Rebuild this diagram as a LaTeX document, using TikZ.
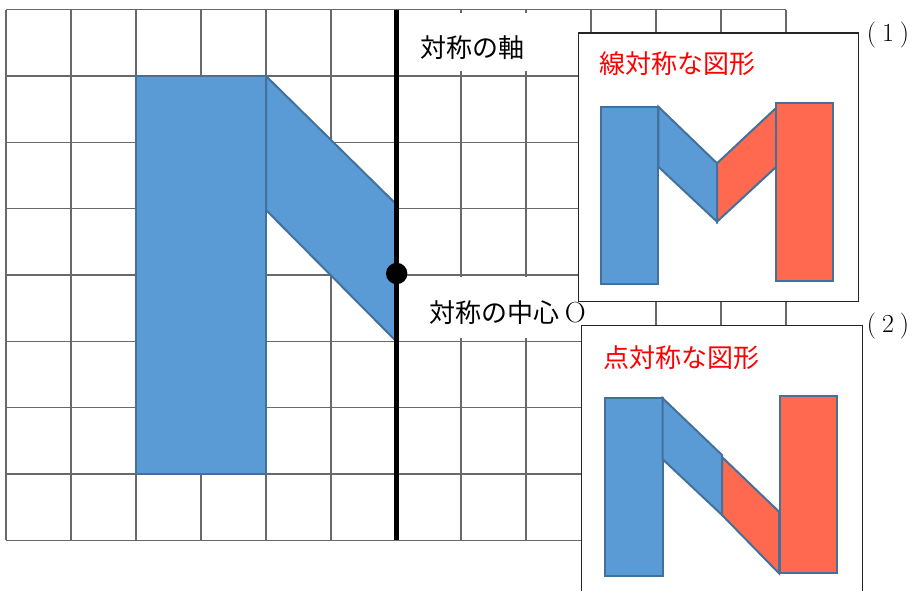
\documentclass[tikz,border=0pt]{standalone}
\usepackage{fontspec}
\newfontfamily\jp{Noto Sans CJK JP}
\definecolor{gridc}{RGB}{105,105,105}
\definecolor{bfill}{RGB}{91,155,213}
\definecolor{rfill}{RGB}{255,105,80}
\definecolor{edgec}{RGB}{65,113,156}
\tikzset{
  gridline/.style={draw=gridc,line width=1.3pt},
  bshape/.style={fill=bfill,draw=edgec,line width=2pt,line join=miter},
  rshape/.style={fill=rfill,draw=edgec,line width=2pt,line join=miter},
  panel/.style={fill=white,draw=black!85,line width=1.3pt},
  jlabel/.style={font=\jp\fontsize{26}{26}\selectfont,inner sep=0pt},
  rlabel/.style={jlabel,text=red},
  numlabel/.style={font=\rmfamily\fontsize{26}{26}\selectfont,inner sep=0pt},
  centredot/.style={circle,fill=black,minimum size=21.4pt,inner sep=0pt},
}
\begin{document}
\begin{tikzpicture}[x=1pt,y=-1pt]
\useasboundingbox (0,0) rectangle (913,590);
\fill[white] (0,0) rectangle (913,590);
% grid
\foreach \k in {0,...,12}{
  \draw[gridline] ({6+65*\k},9.5) -- ({6+65*\k},540.3);
}
\foreach \j in {0,...,8}{
  \draw[gridline] (6,{9.5+66.35*\j}) -- (786,{9.5+66.35*\j});
}
% main figure
\draw[bshape] (136,76) rectangle (266,474);
\draw[bshape] (266,76) -- (396,204) -- (396,341) -- (266,210) -- cycle;
% label backgrounds
\fill[white] (400,13) rectangle (585,71);
\fill[white] (400,277) rectangle (600,337.5);
% axis and centre
\draw[line width=5pt,black] (396.7,9.5) -- (396.7,540.3);
\node[centredot] (O) at (396.7,273.5) {};
\node[jlabel] (axis) at (472.5,48) {対称の軸};
\node[jlabel] (centre) at (507.5,313) {対称の中心 {\rmfamily\fontsize{29}{29}\selectfont O}};
% panel 1
\draw[panel] (578.3,33) rectangle (858.3,301.7);
\node[rlabel] (t1) at (677.5,64) {線対称な図形};
\draw[bshape] (600.7,106.7) rectangle (658.3,284);
\draw[bshape] (658.3,106.7) -- (717,163.3) -- (717,221.7) -- (658.3,166.7) -- cycle;
\draw[rshape] (717,163.3) -- (776,108) -- (776,167) -- (717,221.7) -- cycle;
\draw[rshape] (776,103.3) rectangle (833.3,281);
\node[numlabel] (n1) at (888,35) {(\kern6pt1\kern6pt)};
% panel 2
\draw[panel] (581.7,325.7) rectangle (862.3,600);
\node[rlabel] (t2) at (681.5,358) {点対称な図形};
\draw[bshape] (605,398.3) rectangle (662.7,576);
\draw[bshape] (662.7,398.3) -- (722,455) -- (722,515) -- (662.7,459.3) -- cycle;
\draw[rshape] (722,457) -- (779,511.7) -- (779,573.3) -- (722,515) -- cycle;
\draw[rshape] (780,396) rectangle (837.3,572.7);
\node[numlabel] (n2) at (888,326) {(\kern6pt2\kern6pt)};
\end{tikzpicture}
\end{document}
